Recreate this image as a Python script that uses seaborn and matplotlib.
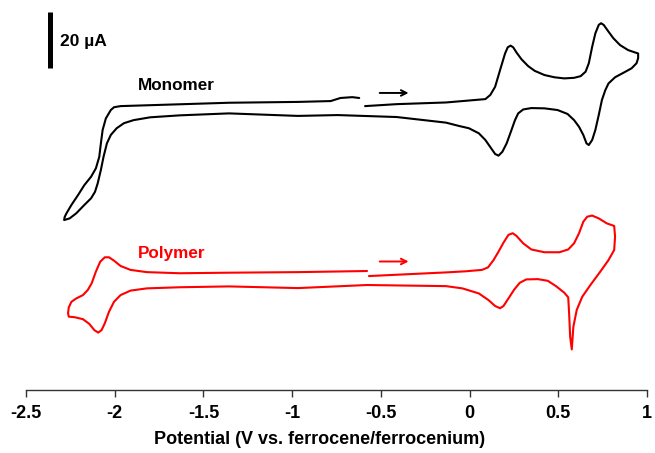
import matplotlib
matplotlib.use("Agg")
import matplotlib.pyplot as plt
import pandas as pd
import seaborn as sns

# cyclic voltammograms, current in uA (curves offset vertically), listed in scan order
mono_potential = [-0.589, -0.411, -0.133, -0.022, 0.089, 0.117, 0.144, 0.172, 0.200, 0.215,
                  0.231, 0.246, 0.265, 0.293, 0.330, 0.367, 0.422, 0.478, 0.533, 0.589,
                  0.626, 0.654, 0.672, 0.691, 0.709, 0.728, 0.741, 0.756, 0.783, 0.811,
                  0.848, 0.894, 0.931, 0.950, 0.950, 0.941, 0.913, 0.867, 0.820, 0.783,
                  0.765, 0.746, 0.728, 0.709, 0.691, 0.672, 0.659, 0.641, 0.617, 0.589,
                  0.552, 0.496, 0.422, 0.348, 0.302, 0.274, 0.256, 0.233, 0.209, 0.185,
                  0.163, 0.144, 0.122, 0.089, 0.052, -0.004, -0.059, -0.133, -0.411, -0.744,
                  -0.967, -1.356, -1.633, -1.800, -1.893, -1.948, -1.989, -2.022, -2.044, -2.063,
                  -2.078, -2.096, -2.111, -2.133, -2.171, -2.217, -2.254, -2.285, -2.282, -2.272,
                  -2.244, -2.207, -2.171, -2.133, -2.106, -2.087, -2.078, -2.068, -2.050, -2.022,
                  -2.004, -1.967, -1.356, -0.967, -0.783, -0.728, -0.661, -0.622]
mono_current = [101.4, 102.1, 102.7, 103.3, 103.9, 105.4, 108.3, 114.3, 120.2, 122.4,
                123.0, 122.4, 120.5, 118.1, 115.7, 114.0, 112.5, 111.7, 111.3, 111.5,
                112.1, 113.7, 116.7, 122.6, 127.4, 130.4, 131.0, 130.4, 128.0, 125.6,
                123.2, 121.4, 120.6, 120.2, 118.5, 116.7, 114.9, 113.3, 111.7, 109.5,
                107.1, 103.6, 98.2, 92.9, 89.3, 87.5, 88.1, 91.1, 94.0, 96.4,
                98.6, 100.0, 100.6, 100.7, 100.2, 98.8, 96.4, 92.3, 88.1, 85.1,
                83.7, 84.3, 86.3, 89.3, 91.7, 93.5, 94.3, 95.5, 97.5, 98.2,
                97.9, 98.8, 98.1, 97.4, 96.4, 95.3, 93.5, 91.1, 88.1, 83.3,
                78.6, 73.8, 70.8, 68.5, 66.1, 63.1, 61.3, 60.7, 61.8, 63.1,
                66.1, 69.6, 73.2, 76.2, 79.2, 83.3, 88.1, 92.9, 97.0, 100.0,
                101.0, 101.4, 102.6, 102.9, 103.2, 104.3, 104.6, 104.3]

poly_potential = [-0.567, -0.133, -0.022, 0.070, 0.104, 0.135, 0.163, 0.191, 0.219, 0.243,
                  0.265, 0.302, 0.348, 0.422, 0.506, 0.556, 0.589, 0.617, 0.641, 0.663,
                  0.691, 0.728, 0.774, 0.815, 0.820, 0.815, 0.783, 0.737, 0.681, 0.635,
                  0.604, 0.585, 0.576, 0.567, 0.561, 0.556, 0.533, 0.487, 0.441, 0.385,
                  0.320, 0.283, 0.252, 0.219, 0.191, 0.172, 0.144, 0.107, 0.052, -0.041,
                  -0.133, -0.578, -0.967, -1.356, -1.633, -1.819, -1.911, -1.967, -2.004, -2.032,
                  -2.056, -2.074, -2.093, -2.115, -2.143, -2.179, -2.226, -2.259, -2.263, -2.259,
                  -2.244, -2.217, -2.179, -2.152, -2.130, -2.106, -2.082, -2.056, -2.032, -2.004,
                  -1.967, -1.911, -1.819, -1.633, -1.356, -0.967, -0.578]
poly_current = [40.7, 42.0, 42.4, 42.9, 43.8, 46.4, 49.4, 52.6, 55.4, 56.0,
                55.0, 52.4, 50.2, 49.2, 49.2, 50.2, 52.4, 56.0, 60.1, 61.9,
                62.3, 61.3, 59.5, 58.6, 54.8, 50.0, 46.4, 42.3, 37.5, 33.3,
                28.6, 22.6, 14.5, 19.0, 27.4, 33.1, 34.8, 37.1, 39.0, 39.6,
                39.5, 38.3, 35.9, 32.7, 30.0, 29.2, 30.0, 32.1, 34.5, 36.3,
                37.1, 37.5, 36.4, 37.0, 36.7, 36.3, 35.5, 33.9, 31.5, 28.0,
                23.8, 21.4, 20.5, 21.4, 23.6, 25.3, 26.0, 26.2, 27.4, 29.5,
                31.5, 32.7, 33.9, 35.7, 38.1, 42.3, 45.8, 47.4, 47.4, 46.2,
                44.3, 42.9, 42.1, 41.7, 41.9, 42.1, 42.5]

x_ticks = [-2.5, -2, -1.5, -1, -0.5, 0, 0.5, 1]
x_tick_labels = ["-2.5", "-2", "-1.5", "-1", "-0.5", "0", "0.5", "1"]

sns.set_style("white")
plt.rcParams['font.family'] = ['Liberation Sans', 'DejaVu Sans']
plt.rcParams['font.weight'] = 'bold'
plt.rcParams['text.color'] = 'black'
plt.rcParams['axes.labelcolor'] = 'black'
plt.rcParams['xtick.color'] = 'black'

fig = plt.figure(figsize=(6.55, 4.53), dpi=100)
ax = fig.add_axes([26 / 655, 63 / 453, 621 / 655, 390 / 453])

mono = pd.DataFrame({'potential': mono_potential, 'current': mono_current})
poly = pd.DataFrame({'potential': poly_potential, 'current': poly_current})

sns.lineplot(data=mono, x='potential', y='current', sort=False, estimator=None,
             color='black', lw=1.5, ax=ax)
sns.lineplot(data=poly, x='potential', y='current', sort=False, estimator=None,
             color='#ff0000', lw=1.5, ax=ax)
for line in ax.get_lines():
    line.set_solid_joinstyle('round')

ax.set_xlim(-2.5, 1)
ax.set_ylim(0, 139.3)

# scan direction arrows
ax.annotate("", xy=(-0.328, 106.1), xytext=(-0.522, 106.1),
            arrowprops=dict(arrowstyle='->', color='black', lw=1.4))
ax.annotate("", xy=(-0.328, 45.9), xytext=(-0.522, 45.9),
            arrowprops=dict(arrowstyle='->', color='#ff0000', lw=1.4))

ax.text(-1.867, 108.9, "Monomer", fontsize=12.3, fontweight='bold', va='center', ha='left')
ax.text(-1.872, 48.9, "Polymer", fontsize=12.3, fontweight='bold', va='center', ha='left',
        color='#ff0000')

# 20 uA scale bar
ax.plot([-2.364, -2.364], [115, 135], color='black', lw=3.6, solid_capstyle='butt')
ax.text(-2.306, 124.3, "20 µA", fontsize=12.5, fontweight='bold', va='center', ha='left')

for side in ['left', 'right', 'top']:
    ax.spines[side].set_visible(False)
ax.spines['bottom'].set_color('#333333')
ax.spines['bottom'].set_linewidth(1)
ax.set_yticks([])
ax.set_ylabel("")
ax.set_xticks(x_ticks)
ax.set_xticklabels(x_tick_labels, fontsize=13, fontweight='bold')
ax.tick_params(axis='x', direction='out', length=5, width=1, color='#333333',
               labelcolor='black', bottom=True, pad=6)
ax.set_xlabel("Potential (V vs. ferrocene/ferrocenium)", fontsize=13,
              fontweight='bold', labelpad=6)
ax.xaxis.label.set_x(0.472)

fig.savefig("out.png", dpi=100)
